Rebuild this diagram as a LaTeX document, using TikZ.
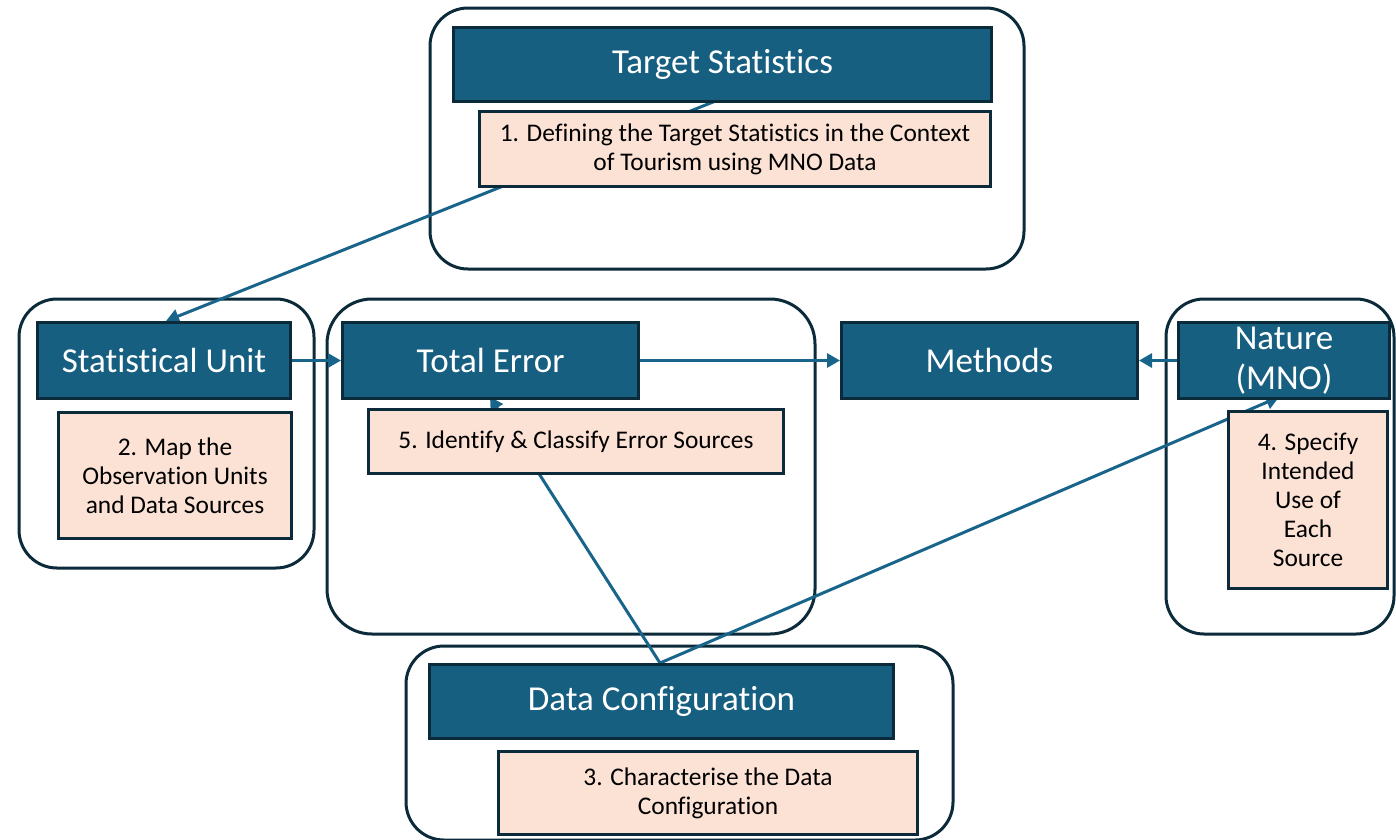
\documentclass[tikz,border=0pt]{standalone}
\usepackage{fontspec}
\setmainfont{Carlito}[Ligatures={NoCommon,NoRare,NoContextual}]
\usetikzlibrary{arrows.meta}
\definecolor{darkfill}{HTML}{175F80}
\definecolor{edge}{HTML}{0B2A3A}
\definecolor{pinkfill}{HTML}{FBE2D5}
\definecolor{conn}{HTML}{19648A}
\tikzset{
  outerbox/.style={draw=edge, line width=3pt, rounded corners=38pt},
  darkbox/.style={draw=edge, fill=darkfill, line width=3pt, text=white, inner sep=0pt, anchor=north west, align=center, font=\fontsize{35}{40}\selectfont},
  pinkbox/.style={draw=edge, fill=pinkfill, line width=3pt, text=black, inner sep=0pt, anchor=north west, align=center, font=\fontsize{25.4}{29}\selectfont},
  conline/.style={draw=conn, line width=3pt},
  conarrow/.style={conline, -{Triangle[length=13pt,width=14pt]}}
}
\begin{document}
\begin{tikzpicture}[x=1pt,y=-1pt]
\useasboundingbox (0,0) rectangle (1396,839);
% outer rounded frames
\draw[outerbox] (430,8) rectangle (1024,269);
\draw[outerbox] (19,299) rectangle (314,568);
\draw[outerbox, rounded corners=45pt] (327,299) rectangle (815,634);
\draw[outerbox] (1166,299) rectangle (1394,634);
\draw[outerbox] (406,646) rectangle (953,840);
% anchor coordinates for connectors
\coordinate (tsout) at (718,100);
\coordinate (suin) at (166,321);
\coordinate (dcout) at (660,663);
\coordinate (tein) at (490,397);
\coordinate (natin) at (1279,397);
% connectors that pass behind the boxes
\draw[conarrow] (tsout) -- (suin);
\draw[conarrow] (dcout) -- (tein);
\draw[conarrow] (dcout) -- (natin);
% dark header boxes
\node[darkbox, minimum width=538pt, minimum height=74pt] (ts) at (452,26) {Target Statistics};
\node[darkbox, minimum width=253pt, minimum height=76pt] (su) at (36,321) {Statistical Unit};
\node[darkbox, minimum width=296pt, minimum height=76pt] (te) at (341,321) {Total Error};
\node[darkbox, minimum width=296pt, minimum height=76pt] (me) at (840,321) {Methods};
\node[darkbox, minimum width=211pt, minimum height=76pt] (na) at (1177,321) {Nature\\(MNO)};
\node[darkbox, minimum width=464pt, minimum height=74pt] (dc) at (428,663) {Data Configuration};
% pink step boxes
\node[pinkbox, minimum width=511pt, minimum height=75pt] (p1) at (478,110) {1. Defining the Target Statistics in the Context\\of Tourism using MNO Data};
\node[pinkbox, minimum width=233pt, minimum height=126pt] (p2) at (57,411) {2. Map the\\Observation Units\\and Data Sources};
\node[pinkbox, minimum width=415pt, minimum height=64pt] (p5) at (367,408) {5. Identify \& Classify Error Sources};
\node[pinkbox, minimum width=159pt, minimum height=177pt] (p4) at (1227,410) {4. Specify\\Intended\\Use of\\Each\\Source};
\node[pinkbox, minimum width=419pt, minimum height=83pt] (p3) at (497,750) {3. Characterise the Data\\Configuration};
% horizontal connectors
\draw[conarrow] (su.east) -- (te.west);
\draw[conarrow] (te.east) -- (me.west);
\draw[conarrow] (na.west) -- (me.east);
\end{tikzpicture}
\end{document}
